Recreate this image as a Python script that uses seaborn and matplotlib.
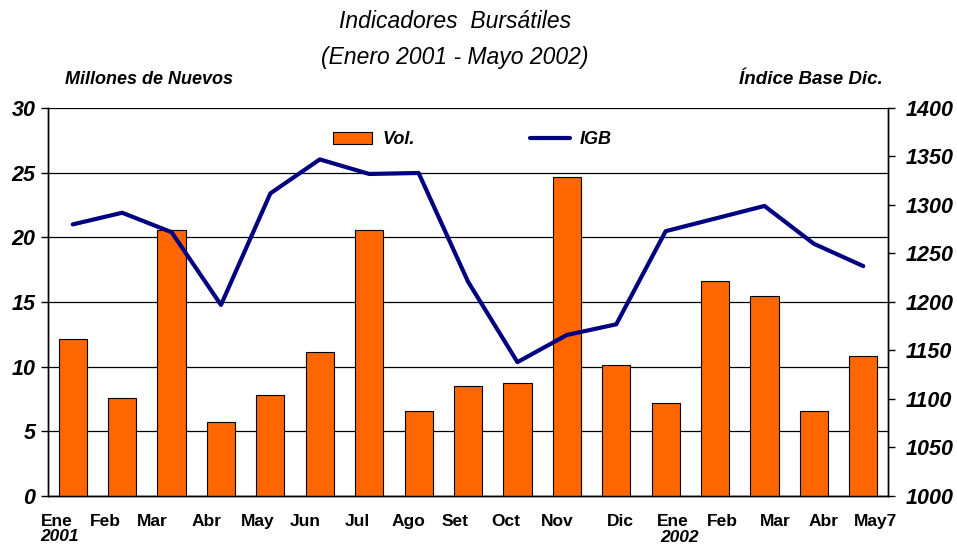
import numpy as np
import pandas as pd
import matplotlib
matplotlib.use('Agg')
import matplotlib.pyplot as plt
import matplotlib.patches as patches
import matplotlib.transforms as mtransforms
from matplotlib.lines import Line2D
import seaborn as sns

MONTHS = ["Ene", "Feb", "Mar", "Abr", "May", "Jun", "Jul", "Ago", "Set",
          "Oct", "Nov", "Dic", "Ene", "Feb", "Mar", "Abr", "May7"]
VOL = [12.1, 7.6, 20.6, 5.7, 7.8, 11.1, 20.6, 6.6, 8.5,
       8.7, 24.7, 10.1, 7.2, 16.6, 15.5, 6.6, 10.8]
IGB = [1280, 1292, 1272, 1197, 1312, 1347, 1332, 1333, 1221,
       1138, 1166, 1177, 1273, 1286, 1299, 1260, 1237]

# the month labels in the original sit a bit off their bars (pixels)
LABEL_SHIFT = [-16, -17, -19, -14, -13, -15, -12, -10, -13,
               -12, -10, 4, 7, 7, 11, 10, 12]

sns.set_style('white')
plt.rcParams['font.family'] = ['Liberation Sans', 'DejaVu Sans']
plt.rcParams['text.color'] = 'black'
plt.rcParams['xtick.color'] = 'black'
plt.rcParams['ytick.color'] = 'black'
plt.rcParams['axes.labelcolor'] = 'black'

df = pd.DataFrame({'idx': range(len(MONTHS)), 'vol': VOL, 'igb': IGB})

fig = plt.figure(figsize=(9.57, 5.46), dpi=100)
ax = fig.add_axes([0.0502, 0.0916, 0.8777, 0.7106])

sns.barplot(data=df, x='idx', y='vol', color='#FF6600', saturation=1,
            width=0.57, edgecolor='black', linewidth=0.8, ax=ax, zorder=3)
ax.set_ylim(0, 30)
ax.set_xlim(-0.5, len(MONTHS) - 0.5)
ax.set_yticks(range(0, 31, 5))
ax.yaxis.grid(True, color='black', linewidth=0.9, zorder=0)
ax.set_axisbelow(True)
ax.set_xlabel('')
ax.set_ylabel('')
ax.set_xticks(range(len(MONTHS)))
ax.set_xticklabels(MONTHS, fontweight='bold', fontsize=12.5)
ax.tick_params(axis='x', length=0, pad=13)
for lab, dx in zip(ax.get_xticklabels(), LABEL_SHIFT):
    lab.set_transform(lab.get_transform() +
                      mtransforms.ScaledTranslation(dx / 100, 0, fig.dpi_scale_trans))
ax.tick_params(axis='y', length=5, width=1, color='black', direction='out', pad=4)
for lab in ax.get_yticklabels():
    lab.set_fontweight('bold')
    lab.set_fontstyle('italic')
    lab.set_fontsize(15.5)

ax2 = ax.twinx()
sns.lineplot(data=df, x='idx', y='igb', color='#000080', linewidth=3, ax=ax2)
ax2.set_ylim(1000, 1400)
ax2.set_yticks(range(1000, 1401, 50))
ax2.set_xlim(-0.5, len(MONTHS) - 0.5)
ax2.set_ylabel('')
ax2.set_xlabel('')
ax2.tick_params(axis='y', length=5, width=1, color='black', direction='out', pad=8)
for lab in ax2.get_yticklabels():
    lab.set_fontweight('bold')
    lab.set_fontstyle('italic')
    lab.set_fontsize(15.5)

for a in (ax, ax2):
    for s in a.spines.values():
        s.set_color('black')
        s.set_linewidth(1)
    a.spines['top'].set_visible(False)

# titles
fig.text(0.475, 0.960, 'Indicadores  Bursátiles', ha='center', va='center',
         fontsize=16.5, fontstyle='italic')
fig.text(0.475, 0.895, '(Enero 2001 - Mayo 2002)', ha='center', va='center',
         fontsize=16.5, fontstyle='italic')
fig.text(0.068, 0.855, 'Millones de Nuevos', ha='left', va='center',
         fontsize=13, fontweight='bold', fontstyle='italic')
fig.text(0.922, 0.855, 'Índice Base Dic.', ha='right', va='center',
         fontsize=13.5, fontweight='bold', fontstyle='italic')

# year labels
fig.text(0.042, 0.003, '2001', ha='left', va='bottom', fontsize=12.5,
         fontweight='bold', fontstyle='italic')
fig.text(0.690, 0.030, '2002', ha='left', va='top', fontsize=12.5,
         fontweight='bold', fontstyle='italic')

# legend
handles = [patches.Patch(facecolor='#FF6600', edgecolor='black', linewidth=0.8),
           Line2D([0], [0], color='#000080', linewidth=3)]
leg = ax.legend(handles, ['Vol.', 'IGB'], loc='center', ncol=2,
                bbox_to_anchor=(0.505, 0.918), frameon=False,
                columnspacing=6.4, handlelength=2.2, handletextpad=0.55,
                prop={'weight': 'bold', 'style': 'italic', 'size': 13})
leg.set_zorder(10)

fig.savefig('out.png', dpi=100)
